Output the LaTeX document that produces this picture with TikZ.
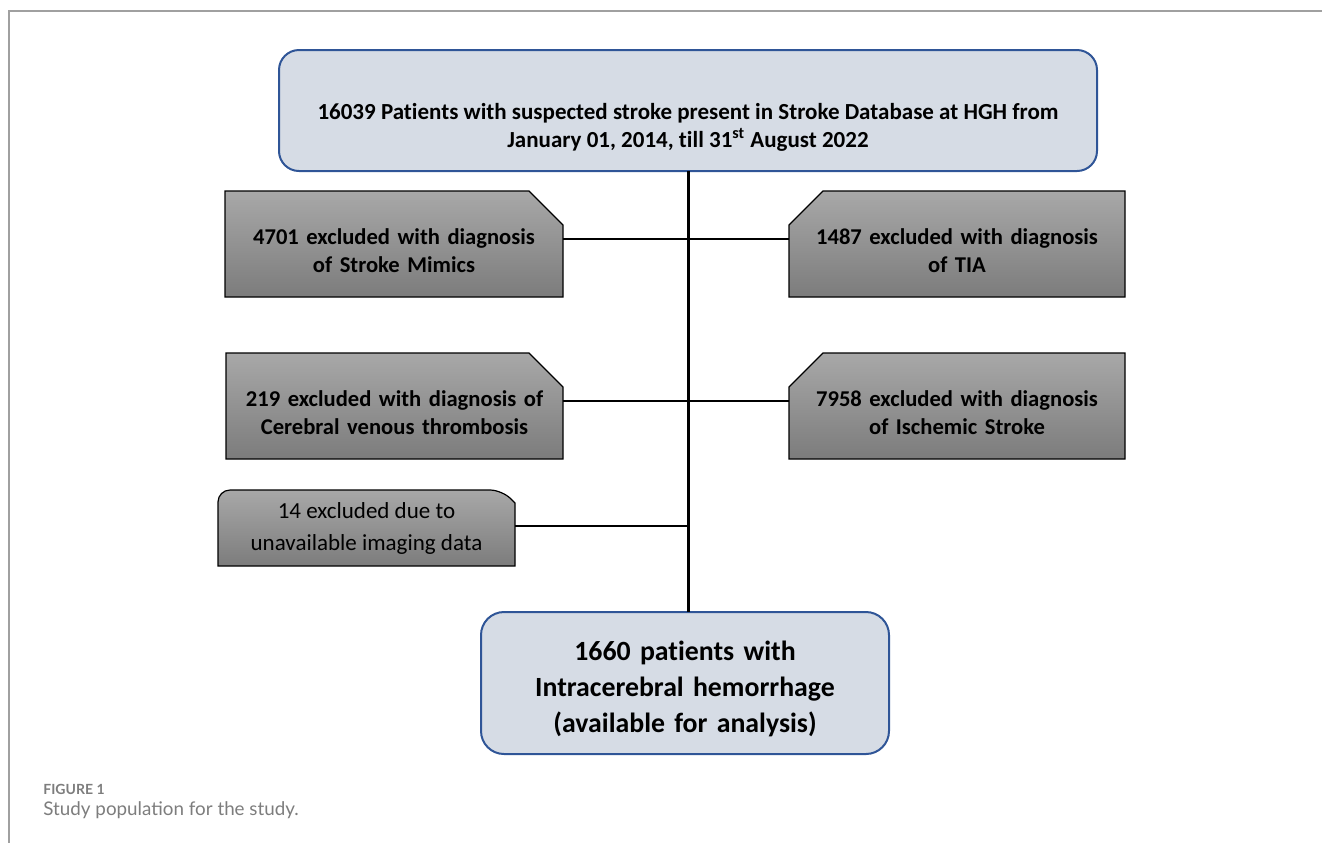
\documentclass[tikz,border=0pt]{standalone}
\usepackage{fontspec}
\setmainfont{Carlito}[Ligatures=NoCommon]
\newfontfamily\captionfont{Lato}
\usetikzlibrary{backgrounds, calc, shapes.misc}
\definecolor{myboxblue}{RGB}{214, 220, 229}
\definecolor{myborderblue}{RGB}{47, 85, 151}
\definecolor{mygraytop}{RGB}{168, 168, 168}
\definecolor{mygraybot}{RGB}{124, 124, 124}
\definecolor{myframegray}{RGB}{160, 160, 160}
\definecolor{mycaptiongray}{RGB}{125, 125, 125}

\tikzset{
  bluebox/.style={draw=myborderblue, line width=1pt, fill=myboxblue, outer sep=0},
  graybox/.style={chamfered rectangle, chamfered rectangle xsep=8.5pt, chamfered rectangle ysep=8.5pt, draw=black, line width=0.6pt, top color=mygraytop, bottom color=mygraybot, text width=151pt, text height=14.5pt, align=center, minimum height=53pt, inner sep=0pt, outer sep=0, font=\fontsize{11.3}{14}\selectfont\bfseries},
  trunk/.style={line width=1.5pt, black},
  branch/.style={line width=1.3pt, black}
}

\begin{document}
\begin{tikzpicture}[x=0.5pt, y=-0.5pt]
\useasboundingbox (0,0) rectangle (1322,843);
% --- Frame ---
\draw[myframegray, line width=0.75pt] (1322,11) -- (9,11) -- (9,843);

% --- Start ---
\node at (688,110.5) [bluebox, rounded corners=10pt, minimum width=409pt, minimum height=60.5pt] (start) {};
\node at ([yshift=-8.5pt]start.center) [align=center, font=\fontsize{11.5}{14}\selectfont\bfseries] (starttext) {16039 Patients with suspected stroke present in Stroke Database at HGH from\\ January 01, 2014, till 31\textsuperscript{st} August 2022};

% --- Exclusions ---
\node at (394,244) [graybox, chamfered rectangle corners=north east, minimum width=169pt] (mimics) {4701 excluded with diagnosis\\ of Stroke Mimics};
\node at (957,244) [graybox, chamfered rectangle corners=north west, minimum width=167pt] (tia) {1487 excluded with diagnosis\\ of TIA};
\node at (394.5,406) [graybox, chamfered rectangle corners=north east, minimum width=168.5pt] (cvt) {219 excluded with diagnosis of\\ Cerebral venous thrombosis};
\node at (957,406) [graybox, chamfered rectangle corners=north west, minimum width=167pt] (ischemic) {7958 excluded with diagnosis\\ of Ischemic Stroke};
\node at (366.5,528) [minimum width=148.5pt, minimum height=38pt, inner sep=0pt, outer sep=0, align=center, font=\fontsize{11.5}{16}\selectfont] (imaging) {14 excluded due to\\ unavailable imaging data};
\begin{scope}[on background layer]
\draw[black, line width=0.6pt, top color=mygraytop, bottom color=mygraybot] (imaging.south west) {[rounded corners=6pt] -- (imaging.north west) -- ($(imaging.north east)+(-13,0)$)} -- ($(imaging.north east)+(0,13)$) -- (imaging.south east) -- cycle;
\end{scope}

% --- Result ---
\node at (685,683) [bluebox, rounded corners=11.5pt, minimum width=204pt, minimum height=71pt, text width=196pt, text height=16pt, align=center, font=\fontsize{13.9}{18}\selectfont\bfseries] (ich) {1660 patients with\\ Intracerebral hemorrhage\\ (available for analysis)};

% --- Connectors ---
\draw[trunk] (start.south) -- (start.south |- ich.north);
\draw[branch] ([yshift=2.5pt]mimics.east) -- ([yshift=2.5pt]mimics.east -| start.south);
\draw[branch] ([yshift=2.5pt]tia.west) -- ([yshift=2.5pt]tia.west -| start.south);
\draw[branch] ([yshift=2.5pt]cvt.east) -- ([yshift=2.5pt]cvt.east -| start.south);
\draw[branch] ([yshift=2.5pt]ischemic.west) -- ([yshift=2.5pt]ischemic.west -| start.south);
\draw[branch] ([yshift=1pt]imaging.east) -- ([yshift=1pt]imaging.east -| start.south);

% --- Caption ---
\node at (43,789) [anchor=west, inner sep=0, text=mycaptiongray, font=\captionfont\fontsize{7}{8}\selectfont\bfseries] (figlabel) {FIGURE 1};
\node at (43,810) [anchor=west, inner sep=0, text=mycaptiongray, font=\captionfont\fontsize{9.4}{11}\selectfont] (figcaption) {Study population for the study.};
\end{tikzpicture}
\end{document}
